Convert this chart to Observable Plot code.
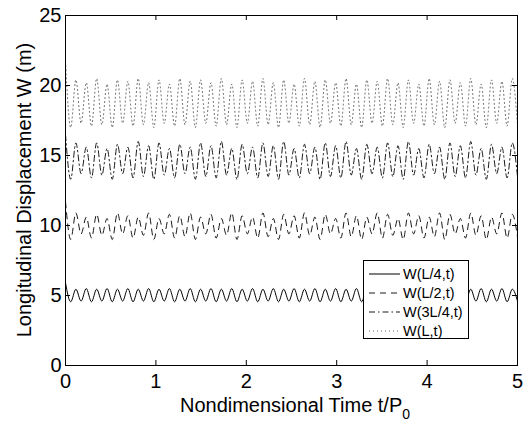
<!DOCTYPE html>
<html>
<head>
<meta charset="utf-8">
<script src="https://cdn.jsdelivr.net/npm/d3@7"></script>
<script src="https://cdn.jsdelivr.net/npm/@observablehq/plot@0.6"></script>
<style>
  html, body { margin: 0; padding: 0; background: #fff; }
  #wrap { position: relative; width: 523px; height: 422px; font-family: "Liberation Sans", Arial, sans-serif; }
  #legend { position: absolute; left: 363px; top: 260px; width: 104px; height: 77px; border: 1px solid #000; background: #fff; box-sizing: content-box; }
  .row { position: absolute; left: 5px; height: 19px; display: flex; align-items: center; font-size: 14.5px; color: #000; white-space: nowrap; }
  .row svg { margin-right: 3px; }
</style>
</head>
<body>
<div id="wrap"></div>
<script>
// Extremum values (alternating peak / trough), evenly spaced in time
const tStart = 0, tEnd = 5;
const xTicks = [0, 1, 2, 3, 4, 5];
const yTicks = [0, 5, 10, 15, 20, 25];
const seriesNames = ["W(L/4,t)", "W(L/2,t)", "W(3L/4,t)", "W(L,t)"];

const wQuarter = [5.9,4.55,5.45,4.6,5.5,4.55,5.45,4.6,5.5,4.55,
5.45,4.6,5.5,4.55,5.45,4.6,5.5,4.55,5.45,4.6,
5.5,4.55,5.45,4.6,5.5,4.55,5.45,4.6,5.5,4.55,
5.45,4.6,5.5,4.55,5.45,4.6,5.5,4.55,5.45,4.6,
5.5,4.55,5.45,4.6,5.5,4.55,5.45,4.6,5.5,4.55,
5.45,4.6,5.5,4.55,5.45,4.6,5.5,4.55,5.45,4.6,
5.5,4.55,5.45,4.6,5.5,4.55,5.45,4.6,5.5,4.55,
5.45,4.6,5.5,4.55,5.45,4.6,5.5,4.55,5.45,4.6,
5.5,4.55,5.45,4.6,5.5,4.55,5.45,4.6];

const wHalf = [11.7,9.0,10.9,9.4,10.6,9.1,10.8,9.3,10.5,9.0,
10.9,9.4,10.7,9.1,10.6,9.3,10.9,9.0,10.5,9.4,
10.8,9.1,10.7,9.2,10.9,9.0,10.6,9.4,10.8,9.1,
10.5,9.3,10.9,9.0,10.7,9.4,10.6,9.1,10.9,9.2,
10.5,9.0,10.8,9.4,10.7,9.1,10.9,9.3,10.6,9.0,
10.8,9.4,10.5,9.1,10.9,9.2,10.7,9.0,10.6,9.4,
10.9,9.1,10.8,9.3,10.5,9.0,10.9,9.4,10.7,9.1,
10.6,9.2,10.9,9.0,10.8,9.4,10.5,9.1,10.9,9.3,
10.7,9.0,10.6,9.4,10.9,9.1,10.8,9.2];

const wThreeQuarter = [16.5,13.3,15.9,13.7,15.6,13.4,15.9,13.6,15.5,13.3,
15.8,13.7,15.6,13.4,16.0,13.5,15.7,13.3,15.9,13.6,
15.5,13.4,15.8,13.7,15.6,13.3,15.9,13.5,15.7,13.4,
16.0,13.6,15.5,13.3,15.8,13.7,15.6,13.4,15.9,13.5,
15.7,13.3,16.0,13.6,15.5,13.4,15.8,13.7,15.6,13.3,
15.9,13.5,15.7,13.4,16.0,13.6,15.5,13.3,15.8,13.7,
15.6,13.4,15.9,13.5,15.7,13.3,16.0,13.6,15.5,13.4,
15.8,13.7,15.6,13.3,15.9,13.5,15.7,13.4,16.0,13.6,
15.5,13.3,15.8,13.7,15.6,13.4,15.9,13.5];

const wEnd = [21.7,17.0,20.4,17.3,20.2,17.1,20.5,17.2,20.1,17.0,
20.4,17.3,20.3,17.1,20.5,17.2,20.2,17.0,20.4,17.3,
20.1,17.1,20.5,17.2,20.3,17.0,20.4,17.3,20.2,17.1,
20.5,17.2,20.1,17.0,20.4,17.3,20.3,17.1,20.5,17.2,
20.2,17.0,20.4,17.3,20.1,17.1,20.5,17.2,20.3,17.0,
20.4,17.3,20.2,17.1,20.5,17.2,20.1,17.0,20.4,17.3,
20.3,17.1,20.5,17.2,20.2,17.0,20.4,17.3,20.1,17.1,
20.5,17.2,20.3,17.0,20.4,17.3,20.2,17.1,20.5,17.2,
20.1,17.0,20.4,17.3,20.3,17.1,20.5,17.2];

const dashes = [null, "6,5", "6,3,1.5,3", "1,3"];
const widths = [1, 0.9, 0.9, 0.7];
const strokes = ["#000", "#000", "#000", "#222"];
const allSeries = [wQuarter, wHalf, wThreeQuarter, wEnd];

function toPoints(vals) {
  const n = vals.length;
  return vals.map((v, i) => ({t: tStart + (tEnd - tStart) * i / (n - 1), w: v}));
}

const W = 523, H = 422;
const mL = 65, mR = 6, mT = 15, mB = 57;
const innerW = W - mL - mR, innerH = H - mT - mB;
const font = "Liberation Sans, Arial, Helvetica, sans-serif";

const marks = [];
allSeries.forEach((vals, k) => {
  marks.push(Plot.line(toPoints(vals), {
    x: "t", y: "w", curve: "monotone-x",
    stroke: strokes[k], strokeWidth: widths[k],
    strokeDasharray: dashes[k] || undefined
  }));
});
marks.push(
  Plot.tickX(xTicks, {x: d => d, insetTop: innerH - 5, stroke: "#000"}),
  Plot.tickX(xTicks, {x: d => d, insetBottom: innerH - 5, stroke: "#000"}),
  Plot.tickY(yTicks, {y: d => d, insetRight: innerW - 5, stroke: "#000"}),
  Plot.tickY(yTicks, {y: d => d, insetLeft: innerW - 5, stroke: "#000"}),
  Plot.axisX(xTicks, {tickSize: 0, tickPadding: 8, label: null, fontSize: 20}),
  Plot.axisY(yTicks, {tickSize: 0, tickPadding: 4, label: null, fontSize: 20}),
  Plot.frame({stroke: "#000", strokeWidth: 1})
);

const chart = Plot.plot({
  width: W, height: H,
  marginLeft: mL, marginRight: mR, marginTop: mT, marginBottom: mB,
  x: {domain: [0, 5]},
  y: {domain: [0, 25]},
  style: {fontFamily: font, fontSize: "20px", color: "#000", background: "#fff", overflow: "visible"},
  marks
});

const svg = d3.select(chart);
const xl = svg.append("text")
  .attr("x", mL + innerW / 2 + 4).attr("y", 412)
  .attr("text-anchor", "middle")
  .attr("font-family", font).attr("font-size", 20).attr("fill", "#000");
xl.append("tspan").text("Nondimensional Time t/P");
xl.append("tspan").attr("dy", 7).attr("font-size", 14).text("0");

svg.append("text")
  .attr("transform", `translate(31,${mT + innerH / 2}) rotate(-90)`)
  .attr("text-anchor", "middle")
  .attr("font-family", font).attr("font-size", 20).attr("fill", "#000")
  .text("Longitudinal Displacement W (m)");

const wrap = document.getElementById("wrap");
wrap.appendChild(chart);

// Legend overlay
const leg = document.createElement("div");
leg.id = "legend";
seriesNames.forEach((name, k) => {
  const row = document.createElement("div");
  row.className = "row";
  row.style.top = (3 + k * 19) + "px";
  const s = d3.create("svg").attr("width", 31).attr("height", 10);
  s.append("line").attr("x1", 0).attr("x2", 31).attr("y1", 5).attr("y2", 5)
    .attr("stroke", strokes[k]).attr("stroke-width", widths[k])
    .attr("stroke-dasharray", dashes[k]);
  row.appendChild(s.node());
  const sp = document.createElement("span");
  sp.textContent = name;
  row.appendChild(sp);
  leg.appendChild(row);
});
wrap.appendChild(leg);
</script>
</body>
</html>
